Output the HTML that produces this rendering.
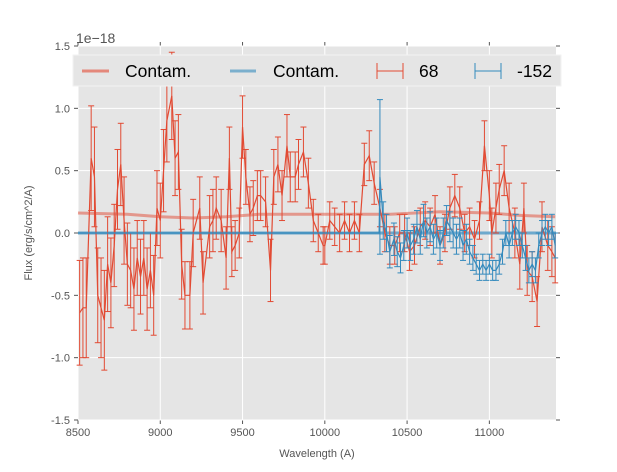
<!DOCTYPE html>
<html><head><meta charset="utf-8"><style>
body{margin:0;background:#fff;font-family:"Liberation Sans",sans-serif}
svg text{font-family:"Liberation Sans",sans-serif}
</style></head><body>
<svg id="c" width="617" height="467" viewBox="0 0 617 467"></svg>
<script>
const redWl=[8510,8530,8550,8580,8600,8620,8640,8660,8680,8700,8720,8740,8760,8780,8800,8820,8840,8860,8880,8900,8920,8940,8960,8980,9000,9020,9040,9070,9090,9110,9130,9150,9180,9200,9240,9260,9300,9320,9340,9370,9400,9420,9435,9455,9480,9500,9520,9545,9565,9590,9610,9640,9670,9690,9715,9740,9770,9790,9820,9840,9870,9900,9930,9960,9990,10000,10030,10060,10090,10120,10150,10180,10210,10240,10270,10300,10335,10365,10395,10425,10455,10485,10515,10545,10580,10610,10640,10670,10700,10730,10760,10790,10820,10850,10880,10910,10940,10970,11000,11015,11040,11060,11090,11120,11155,11185,11210,11230,11260,11290,11320,11355,11380,11400];
const redFlux=[-0.64,-0.6,-0.6,0.6,0.45,-0.5,-0.6,-0.7,-0.25,-0.4,-0.1,0.35,0.55,0.1,-0.25,-0.3,-0.45,-0.2,-0.35,-0.2,-0.45,-0.3,-0.5,0.2,0.1,0.5,0.9,1.1,0.6,0.65,-0.25,-0.5,-0.5,0.0,0.2,-0.4,0.05,0.1,0.2,0.1,-0.2,0.6,-0.15,-0.1,0.0,0.85,0.45,0.15,0.2,0.3,0.3,0.25,-0.3,0.45,0.55,0.3,0.7,0.45,0.45,0.55,0.65,0.4,0.1,0.0,-0.1,-0.1,0.1,0.05,0.0,0.1,0.0,0.1,0.0,0.55,0.62,0.4,0.2,0.0,-0.1,-0.1,0.0,0.0,-0.15,-0.1,0.05,0.1,0.05,0.15,-0.1,0.0,0.2,0.3,0.2,0.0,0.05,-0.05,0.1,0.7,0.3,0.0,0.2,0.35,0.5,0.2,0.0,-0.25,0.2,-0.3,-0.35,-0.55,0.05,-0.1,-0.15,-0.2];
const redErr=[0.42,0.4,0.4,0.42,0.4,0.38,0.4,0.4,0.38,0.36,0.33,0.32,0.33,0.35,0.33,0.3,0.33,0.3,0.3,0.3,0.33,0.3,0.32,0.3,0.3,0.33,0.33,0.35,0.3,0.3,0.28,0.27,0.27,0.27,0.25,0.25,0.25,0.25,0.25,0.25,0.25,0.25,0.2,0.2,0.2,0.25,0.22,0.22,0.22,0.2,0.2,0.2,0.25,0.22,0.22,0.2,0.25,0.2,0.2,0.2,0.2,0.2,0.17,0.15,0.15,0.15,0.15,0.15,0.15,0.15,0.15,0.15,0.15,0.17,0.2,0.17,0.15,0.15,0.15,0.15,0.15,0.15,0.15,0.15,0.15,0.15,0.15,0.15,0.15,0.15,0.17,0.17,0.17,0.15,0.15,0.15,0.15,0.2,0.2,0.2,0.2,0.2,0.2,0.2,0.2,0.2,0.2,0.2,0.2,0.2,0.2,0.2,0.2,0.2];
const blueWl=[10335,10355,10375,10395,10420,10440,10460,10480,10500,10520,10540,10560,10580,10600,10620,10640,10660,10680,10700,10720,10740,10760,10780,10800,10820,10840,10860,10880,10900,10920,10940,10960,10980,11000,11020,11040,11060,11080,11100,11120,11140,11160,11180,11200,11220,11240,11260,11280,11300,11320,11340,11360,11380,11400];
const blueFlux=[0.45,0.1,0.0,-0.15,-0.05,-0.15,-0.2,-0.1,0.0,-0.1,-0.05,0.05,-0.05,0.1,0.0,0.05,-0.05,0.0,-0.1,0.0,0.1,0.05,0.0,-0.05,0.0,-0.1,-0.05,-0.15,-0.2,-0.25,-0.3,-0.25,-0.3,-0.25,-0.3,-0.3,-0.25,-0.15,0.0,-0.1,0.0,0.05,0.0,-0.1,-0.2,-0.3,-0.25,-0.3,-0.1,0.0,0.05,0.0,0.05,-0.1];
const blueErr=[0.62,0.15,0.15,0.13,0.13,0.12,0.12,0.12,0.12,0.12,0.12,0.13,0.12,0.13,0.12,0.12,0.12,0.12,0.12,0.12,0.12,0.12,0.12,0.12,0.12,0.12,0.12,0.1,0.1,0.08,0.08,0.08,0.08,0.08,0.08,0.08,0.08,0.1,0.1,0.1,0.1,0.1,0.1,0.1,0.1,0.1,0.1,0.1,0.1,0.1,0.1,0.1,0.1,0.1];
const contWl=[8500,8800,9000,9200,9400,9600,10000,10400,10700,11000,11200,11400];
const contRed=[0.16,0.15,0.13,0.12,0.13,0.15,0.15,0.15,0.17,0.16,0.14,0.13];
const xTicks=[8500,9000,9500,10000,10500,11000];
const yTicks=[-1.5,-1.0,-0.5,0.0,0.5,1.0,1.5];

const L=78,R=556,T=46,B=420,X0=8500,X1=11405,Y0=-1.5,Y1=1.5;
const sx=v=>L+(v-X0)/(X1-X0)*(R-L);
const sy=v=>B-(v-Y0)/(Y1-Y0)*(B-T);
const svg=document.getElementById('c');
const NS='http://www.w3.org/2000/svg';
function mk(t,a,p){const e=document.createElementNS(NS,t);for(const k in a)e.setAttribute(k,a[k]);(p||svg).appendChild(e);return e;}
const bg=mk('rect',{x:L,y:T,width:R-L,height:B-T,fill:'#e5e5e5'});


xTicks.forEach(t=>{const g=mk('line',{x1:sx(t),x2:sx(t),y1:T,y2:B,stroke:'#fff','stroke-width':1});


mk('line',{x1:sx(t),x2:sx(t),y1:B,y2:B+4,stroke:'#555'});
mk('line',{x1:sx(t),x2:sx(t),y1:T,y2:T-4,stroke:'#555'});
const tx=mk('text',{x:sx(t),y:B+16,'text-anchor':'middle','font-size':11,fill:'#555'});tx.textContent=t;

});
yTicks.forEach(t=>{const g=mk('line',{x1:L,x2:R,y1:sy(t),y2:sy(t),stroke:'#fff','stroke-width':1});


mk('line',{x1:L-4,x2:L,y1:sy(t),y2:sy(t),stroke:'#555'});
mk('line',{x1:R,x2:R+4,y1:sy(t),y2:sy(t),stroke:'#555'});
const tx=mk('text',{x:L-8,y:sy(t)+4,'text-anchor':'end','font-size':11,fill:'#555'});tx.textContent=t.toFixed(1);

});
const cr=mk('polyline',{points:contWl.map((w,i)=>sx(w)+','+sy(contRed[i])).join(' '),fill:'none',stroke:'#e24a33','stroke-opacity':0.5,'stroke-width':3});


const cb=mk('line',{x1:L,x2:R,y1:sy(0),y2:sy(0),stroke:'#348abd','stroke-opacity':0.7,'stroke-width':3});


function series(wl,fl,er,col,name,flatStart){
 const g=mk('g',{});
 
 
 wl.forEach((w,i)=>{const x=sx(w),a=sy(fl[i]+er[i]),b=sy(fl[i]-er[i]);
  mk('line',{x1:x,x2:x,y1:a,y2:b,stroke:col,'stroke-width':1},g);
  mk('line',{x1:x-3,x2:x+3,y1:a,y2:a,stroke:col,'stroke-width':1},g);
  mk('line',{x1:x-3,x2:x+3,y1:b,y2:b,stroke:col,'stroke-width':1},g);});
 let pts=wl.map((w,i)=>sx(w)+','+sy(fl[i]));
 if(flatStart)pts=[L+','+sy(0),sx(wl[0]-5)+','+sy(0)].concat(pts);
 mk('polyline',{points:pts.join(' '),fill:'none',stroke:col,'stroke-width':1.2},g);
}
series(redWl,redFlux,redErr,'#e24a33','series-68',false);
series(blueWl,blueFlux,blueErr,'#348abd','series-152',true);
const ex=mk('text',{x:76,y:43,'font-size':14,fill:'#555'});ex.textContent='1e\u221218';


const xl=mk('text',{x:(L+R)/2,y:457,'text-anchor':'middle','font-size':11,fill:'#555'});xl.textContent='Wavelength (A)';


const yl=mk('text',{x:0,y:0,'text-anchor':'middle','font-size':11,fill:'#555',transform:'translate(32,233) rotate(-90)'});yl.textContent='Flux (erg/s/cm^2/A)';


const lg=mk('g',{});


mk('rect',{x:73,y:55,width:488,height:31,fill:'#e5e5e5',stroke:'#f2f2f2'},lg);
const ly=71;
mk('line',{x1:82,x2:109,y1:ly,y2:ly,stroke:'#e24a33','stroke-opacity':0.6,'stroke-width':3},lg);
mk('line',{x1:230,x2:256,y1:ly,y2:ly,stroke:'#348abd','stroke-opacity':0.6,'stroke-width':3},lg);
[[377,'#e24a33'],[475,'#348abd']].forEach(([x,c])=>{
 mk('line',{x1:x,x2:x+26,y1:ly,y2:ly,stroke:c},lg);
 mk('line',{x1:x,x2:x,y1:ly-8,y2:ly+8,stroke:c},lg);
 mk('line',{x1:x+26,x2:x+26,y1:ly-8,y2:ly+8,stroke:c},lg);});
[[125,'Contam.','legend-contam-red'],[273,'Contam.','legend-contam-blue'],[419,'68','legend-68'],[517,'-152','legend-152']].forEach(([x,t,n])=>{
 const e=mk('text',{x:x,y:ly+6,'font-size':17.5,fill:'#000'},lg);e.textContent=t;
 
 });
</script>
</body></html>
